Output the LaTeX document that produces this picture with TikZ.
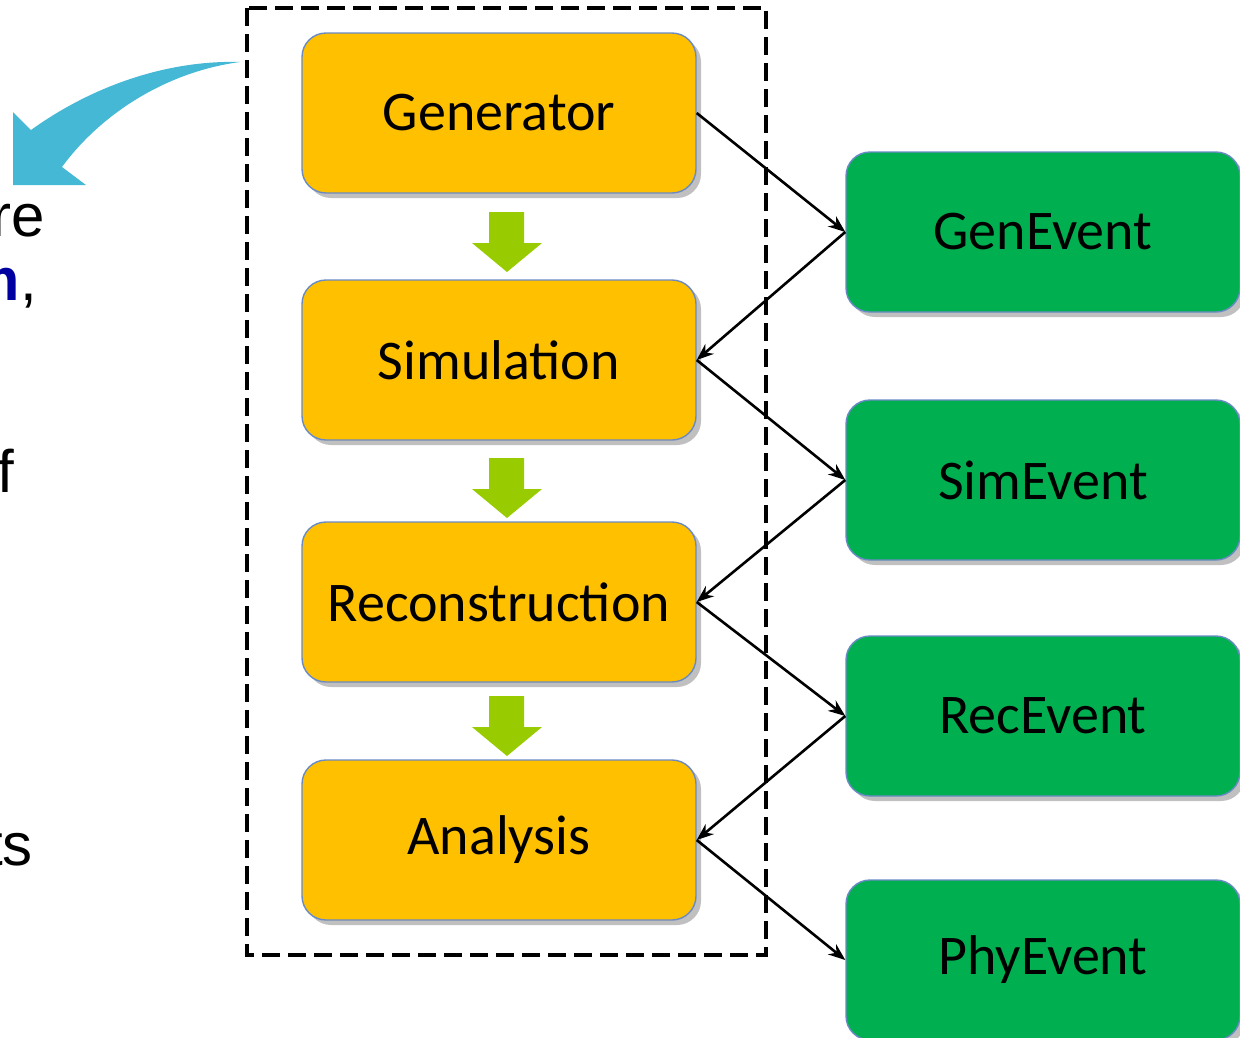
\documentclass[tikz,border=0pt]{standalone}
\usepackage{fontspec}
\setmainfont{Carlito}
\newfontfamily\arialfont{Liberation Sans}
\usetikzlibrary{shadows,arrows.meta}
\definecolor{boxorange}{HTML}{FFC000}
\definecolor{boxgreen}{HTML}{00B050}
\definecolor{arrowgreen}{HTML}{99CC00}
\definecolor{curvecyan}{HTML}{44B8D4}
\definecolor{edgeblue}{HTML}{6A8AC4}
\definecolor{textblue}{HTML}{0000A0}
\begin{document}
\begin{tikzpicture}[x=1pt,y=-1pt,
  basebox/.style={draw=edgeblue, line width=1.4pt, rounded corners=24pt,
    minimum width=394pt, minimum height=160pt, inner sep=0pt,
    font=\fontsize{56}{60}\selectfont,
    drop shadow={shadow xshift=5pt, shadow yshift=-5pt, fill=black!55, opacity=0.45}},
  stagebox/.style={basebox, fill=boxorange},
  eventbox/.style={basebox, fill=boxgreen},
  flow/.style={-{Stealth[length=17pt,width=13pt]}, line width=2.6pt, black},
  downarrow/.style={fill=arrowgreen},
  sidetext/.style={anchor=base east, inner sep=0pt, font=\arialfont\fontsize{60}{70}\selectfont}
]
\useasboundingbox (0,0) rectangle (1240,1037);
\clip (0,0) rectangle (1240,1037);

% curved cyan arrow
\fill[curvecyan] (13,112) -- (31,130)
  .. controls (95,84) and (170,60) .. (240,62)
  .. controls (165,72) and (100,115) .. (62,167)
  -- (86,185) -- (13,185) -- cycle;

% side text fragments
\node[sidetext] (t1) at (45,236) {re};
\node[sidetext] (t2) at (37,300) {{\color{textblue}\bfseries m},};
\node[sidetext] (t3) at (14,492) {f};
\node[sidetext] (t4) at (33,865) {ts};

% dashed frame
\draw[line width=3.4pt, dash pattern=on 18pt off 8pt] (247,8) rectangle (766,955);

% stage boxes
\node[stagebox] (gen) at (499,113) {Generator};
\node[stagebox] (sim) at (499,360) {Simulation};
\node[stagebox] (rec) at (499,602) {Reconstruction};
\node[stagebox] (ana) at (499,840) {Analysis};

% event boxes
\node[eventbox] (gev) at (1043,232) {GenEvent};
\node[eventbox] (sev) at (1043,480) {SimEvent};
\node[eventbox] (rev) at (1043,716) {RecEvent};
\node[eventbox] (pev) at (1043,960) {PhyEvent};

% green down arrows
\foreach \y in {212,458,696}{
  \fill[downarrow] (489,\y) -- (524,\y) -- (524,\y+31) -- (542,\y+31)
    -- (507,\y+60) -- (472,\y+31) -- (489,\y+31) -- cycle;
}

% connectors
\draw[flow] (gen.east) -- (gev.west);
\draw[flow] (gev.west) -- (sim.east);
\draw[flow] (sim.east) -- (sev.west);
\draw[flow] (sev.west) -- (rec.east);
\draw[flow] (rec.east) -- (rev.west);
\draw[flow] (rev.west) -- (ana.east);
\draw[flow] (ana.east) -- (pev.west);
\end{tikzpicture}
\end{document}
